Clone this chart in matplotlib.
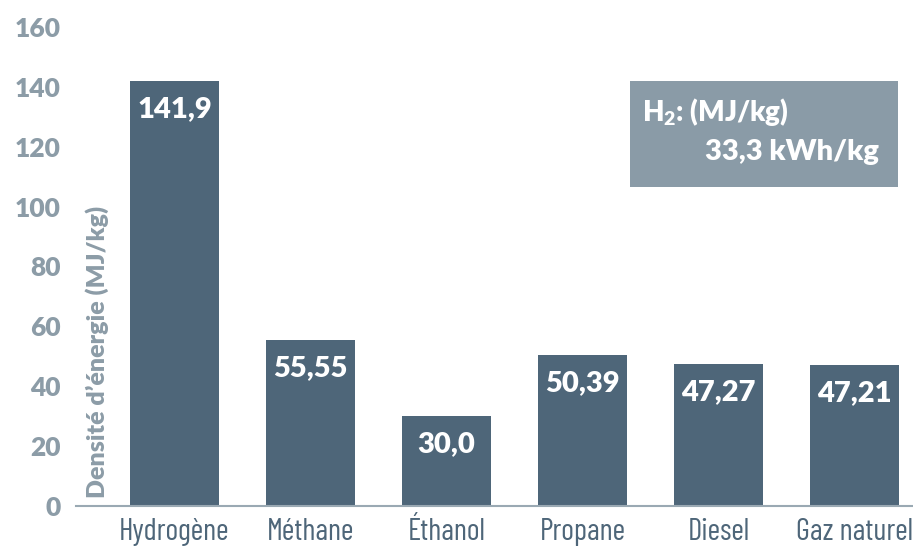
import matplotlib
matplotlib.use("Agg")
import matplotlib.pyplot as plt
from matplotlib.patches import Rectangle

# Densité d'énergie massique des carburants
carburants = ["Hydrogène", "Méthane", "Éthanol", "Propane", "Diesel", "Gaz naturel"]
densites = [141.9, 55.55, 30.0, 50.39, 47.27, 47.21]
etiquettes = ["141,9", "55,55", "30,0", "50,39", "47,27", "47,21"]
yticks = [0, 20, 40, 60, 80, 100, 120, 140, 160]

BAR = "#4e6679"
GRIS = "#8c9ca7"
BOITE = "#8a9ba7"
GRAS = "heavy"

plt.rcParams["font.family"] = ["Lato", "DejaVu Sans"]
plt.rcParams["mathtext.fontset"] = "custom"
plt.rcParams["mathtext.rm"] = "Lato:heavy"
plt.rcParams["mathtext.bf"] = "Lato:heavy"

W, H = 913, 549
fig = plt.figure(figsize=(W / 100, H / 100), dpi=100)
ax = fig.add_axes([76 / W, (H - 506) / H, (W - 76) / W, (506 - 12) / H])

x = list(range(len(carburants)))
ax.bar(x, densites, width=0.655, color=BAR, zorder=2)

for xi, v, lab in zip(x, densites, etiquettes):
    ax.annotate(lab, (xi, v), xytext=(0, -28), textcoords="offset pixels",
                ha="center", va="center", color="white", fontsize=21,
                fontweight=GRAS)

ax.set_xlim(-0.724, 5.43)
ax.set_ylim(0, 165)
ax.set_yticks(yticks)
ax.set_yticklabels([str(t) for t in yticks], color=GRIS, fontsize=19,
                   fontweight=GRAS)
ax.set_xticks(x)
ax.set_xticklabels(carburants, color=BAR, fontsize=22, fontweight=400,
                   family=["Barlow Condensed", "DejaVu Sans"])
ax.tick_params(axis="both", length=0)
ax.tick_params(axis="y", pad=11)
ax.tick_params(axis="x", pad=9)

for s in ["left", "top", "right"]:
    ax.spines[s].set_visible(False)
ax.spines["bottom"].set_color("#9aa9b3")
ax.spines["bottom"].set_linewidth(1.5)

ax.text(-0.57, 2.7, "Densité d’énergie (MJ/kg)", rotation=90, ha="center",
        va="bottom", color=GRIS, fontsize=18, fontweight=GRAS)

# encadré H2
ax.add_patch(Rectangle((3.35, 106.7), 1.97, 35.1, facecolor=BOITE,
                       edgecolor="none", zorder=3))
ax.text(3.435, 131.7, r"H$_{\mathbf{2}}$: (MJ/kg)", ha="left", va="center",
        color="white", fontsize=20, fontweight=GRAS, zorder=4)
ax.text(5.18, 118.3, "33,3 kWh/kg", ha="right", va="center",
        color="white", fontsize=21, fontweight=GRAS, zorder=4)

fig.savefig("out.png", dpi=100)
